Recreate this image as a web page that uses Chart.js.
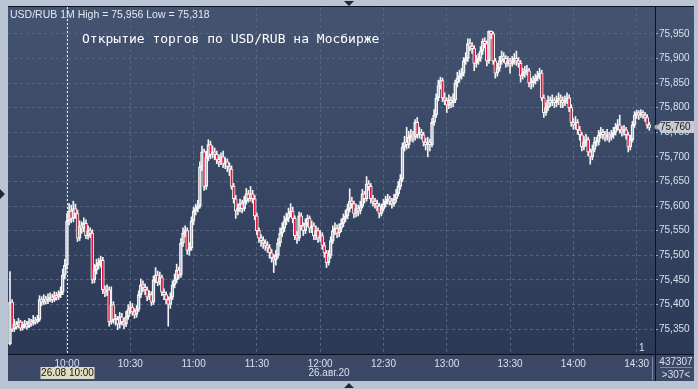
<!DOCTYPE html>
<html>
<head>
<meta charset="utf-8">
<script src="https://cdn.jsdelivr.net/npm/chart.js@4.4.1/dist/chart.umd.min.js"></script>
<style>
  html, body { margin: 0; padding: 0; background: #b9c5d5; overflow: hidden; }
  canvas { display: block; }
</style>
</head>
<body>
<canvas id="chart" width="698" height="389"></canvas>
<script>
// ── Données : USD/RUB 1M, 26.08.20, à partir de 9:33 ──────────────────────
const FIRST_MINUTE = 573;   // 9:33
const FIRST_OPEN = 75.320;

const closes = [
  75.405, 75.350, 75.360, 75.355, 75.365, 75.352, 75.358, 75.360, 75.355, 75.365,
  75.362, 75.368, 75.365, 75.370, 75.410, 75.405, 75.410, 75.408, 75.412, 75.415,
  75.410, 75.418, 75.415, 75.420, 75.425, 75.460, 75.480, 75.570, 75.590, 75.575,
  75.595, 75.585, 75.535, 75.560, 75.555, 75.565, 75.540, 75.550, 75.545, 75.450,
  75.470, 75.480, 75.485, 75.490, 75.430, 75.425, 75.430, 75.365, 75.400, 75.370,
  75.370, 75.360, 75.375, 75.365, 75.360, 75.375, 75.390, 75.395, 75.385, 75.380,
  75.390, 75.420, 75.440, 75.435, 75.430, 75.415, 75.420, 75.405, 75.450, 75.460,
  75.445, 75.455, 75.425, 75.420, 75.410, 75.400, 75.415, 75.440, 75.450, 75.470,
  75.460, 75.525, 75.545, 75.550, 75.510, 75.515, 75.570, 75.590, 75.595, 75.600,
  75.680, 75.710, 75.640, 75.700, 75.725, 75.705, 75.710, 75.705, 75.695, 75.690,
  75.700, 75.685, 75.690, 75.680, 75.675, 75.640, 75.615, 75.590, 75.595, 75.605,
  75.595, 75.610, 75.625, 75.615, 75.625, 75.615, 75.580, 75.550, 75.535, 75.530,
  75.525, 75.520, 75.515, 75.505, 75.495, 75.490, 75.500, 75.525, 75.545, 75.555,
  75.570, 75.575, 75.585, 75.590, 75.575, 75.540, 75.535, 75.580, 75.560, 75.550,
  75.565, 75.575, 75.555, 75.560, 75.540, 75.550, 75.535, 75.540, 75.520, 75.505,
  75.485, 75.500, 75.530, 75.550, 75.555, 75.545, 75.555, 75.565, 75.575, 75.580,
  75.595, 75.610, 75.605, 75.585, 75.595, 75.590, 75.600, 75.625, 75.615, 75.645,
  75.640, 75.615, 75.610, 75.605, 75.600, 75.585, 75.595, 75.605, 75.610, 75.615,
  75.610, 75.605, 75.615, 75.625, 75.640, 75.655, 75.720, 75.730, 75.725, 75.740,
  75.745, 75.740, 75.770, 75.745, 75.750, 75.745, 75.730, 75.725, 75.730, 75.725,
  75.770, 75.785, 75.820, 75.845, 75.855, 75.820, 75.815, 75.805, 75.815, 75.810,
  75.815, 75.850, 75.860, 75.865, 75.870, 75.895, 75.900, 75.930, 75.925, 75.920,
  75.890, 75.895, 75.900, 75.915, 75.935, 75.930, 75.895, 75.955, 75.950, 75.895,
  75.870, 75.880, 75.895, 75.905, 75.900, 75.890, 75.895, 75.890, 75.895, 75.900,
  75.895, 75.890, 75.865, 75.870, 75.875, 75.875, 75.850, 75.850, 75.855, 75.860,
  75.865, 75.870, 75.820, 75.790, 75.800, 75.815, 75.810, 75.815, 75.810, 75.815,
  75.820, 75.815, 75.810, 75.815, 75.820, 75.800, 75.770, 75.765, 75.770, 75.755,
  75.745, 75.720, 75.730, 75.735, 75.710, 75.700, 75.715, 75.730, 75.730, 75.745,
  75.750, 75.745, 75.740, 75.745, 75.740, 75.745, 75.750, 75.760, 75.765, 75.755,
  75.750, 75.755, 75.745, 75.720, 75.735, 75.765, 75.785, 75.790, 75.785, 75.790,
  75.785, 75.780, 75.765, 75.760
];

const highs = [
  75.467, 75.410, 75.370, 75.366, 75.372, 75.368, 75.365, 75.368, 75.366, 75.372,
  75.370, 75.378, 75.374, 75.378, 75.418, 75.416, 75.420, 75.417, 75.422, 75.424,
  75.421, 75.426, 75.425, 75.428, 75.436, 75.472, 75.492, 75.585, 75.605, 75.602,
  75.610, 75.604, 75.592, 75.570, 75.568, 75.576, 75.572, 75.560, 75.556, 75.552,
  75.482, 75.492, 75.494, 75.498, 75.496, 75.438, 75.440, 75.436, 75.436, 75.406,
  75.380, 75.376, 75.384, 75.382, 75.372, 75.386, 75.400, 75.406, 75.402, 75.392,
  75.398, 75.428, 75.452, 75.448, 75.442, 75.436, 75.428, 75.426, 75.458, 75.475,
  75.468, 75.466, 75.460, 75.432, 75.426, 75.416, 75.424, 75.448, 75.462, 75.482,
  75.476, 75.534, 75.556, 75.560, 75.556, 75.526, 75.578, 75.598, 75.604, 75.612,
  75.690, 75.722, 75.716, 75.712, 75.735, 75.732, 75.722, 75.718, 75.712, 75.704,
  75.708, 75.712, 75.698, 75.696, 75.688, 75.682, 75.646, 75.622, 75.604, 75.614,
  75.612, 75.620, 75.636, 75.632, 75.640, 75.632, 75.622, 75.586, 75.556, 75.542,
  75.538, 75.532, 75.528, 75.522, 75.512, 75.502, 75.510, 75.534, 75.556, 75.566,
  75.580, 75.586, 75.596, 75.605, 75.598, 75.580, 75.548, 75.588, 75.586, 75.566,
  75.574, 75.582, 75.580, 75.570, 75.566, 75.560, 75.556, 75.550, 75.546, 75.526,
  75.510, 75.510, 75.538, 75.560, 75.566, 75.562, 75.564, 75.574, 75.584, 75.592,
  75.604, 75.635, 75.618, 75.610, 75.604, 75.602, 75.610, 75.634, 75.630, 75.660,
  75.652, 75.646, 75.622, 75.616, 75.612, 75.606, 75.604, 75.614, 75.620, 75.624,
  75.620, 75.616, 75.624, 75.634, 75.650, 75.664, 75.728, 75.742, 75.760, 75.752,
  75.756, 75.752, 75.776, 75.780, 75.760, 75.756, 75.750, 75.738, 75.740, 75.736,
  75.778, 75.796, 75.828, 75.856, 75.862, 75.860, 75.830, 75.820, 75.826, 75.822,
  75.828, 75.856, 75.872, 75.876, 75.880, 75.902, 75.912, 75.940, 75.940, 75.932,
  75.926, 75.906, 75.910, 75.924, 75.940, 75.942, 75.936, 75.956, 75.956, 75.954,
  75.900, 75.890, 75.904, 75.915, 75.912, 75.906, 75.904, 75.900, 75.904, 75.910,
  75.915, 75.902, 75.896, 75.880, 75.884, 75.886, 75.880, 75.860, 75.864, 75.868,
  75.874, 75.880, 75.876, 75.826, 75.810, 75.824, 75.822, 75.826, 75.820, 75.824,
  75.830, 75.826, 75.822, 75.824, 75.830, 75.826, 75.806, 75.778, 75.782, 75.776,
  75.762, 75.750, 75.742, 75.746, 75.740, 75.716, 75.724, 75.740, 75.740, 75.754,
  75.760, 75.756, 75.752, 75.756, 75.750, 75.754, 75.760, 75.768, 75.776, 75.785,
  75.762, 75.764, 75.760, 75.750, 75.744, 75.772, 75.792, 75.795, 75.794, 75.796,
  75.794, 75.790, 75.786, 75.770
];

const lows = [
  75.318, 75.345, 75.345, 75.350, 75.352, 75.347, 75.348, 75.352, 75.350, 75.353,
  75.356, 75.358, 75.360, 75.362, 75.366, 75.398, 75.400, 75.401, 75.402, 75.406,
  75.404, 75.406, 75.409, 75.410, 75.414, 75.420, 75.452, 75.472, 75.562, 75.566,
  75.568, 75.575, 75.528, 75.530, 75.545, 75.548, 75.534, 75.533, 75.536, 75.443,
  75.444, 75.462, 75.472, 75.476, 75.422, 75.416, 75.418, 75.356, 75.360, 75.362,
  75.358, 75.349, 75.352, 75.358, 75.351, 75.355, 75.370, 75.382, 75.378, 75.372,
  75.374, 75.386, 75.414, 75.426, 75.420, 75.408, 75.410, 75.398, 75.400, 75.444,
  75.438, 75.440, 75.418, 75.410, 75.402, 75.356, 75.392, 75.410, 75.434, 75.444,
  75.452, 75.455, 75.518, 75.538, 75.502, 75.500, 75.510, 75.562, 75.582, 75.588,
  75.596, 75.672, 75.632, 75.634, 75.692, 75.696, 75.698, 75.694, 75.686, 75.680,
  75.684, 75.678, 75.676, 75.670, 75.662, 75.634, 75.606, 75.575, 75.582, 75.588,
  75.586, 75.590, 75.604, 75.608, 75.610, 75.606, 75.572, 75.542, 75.526, 75.518,
  75.514, 75.510, 75.506, 75.494, 75.486, 75.465, 75.480, 75.494, 75.518, 75.538,
  75.548, 75.562, 75.568, 75.578, 75.566, 75.532, 75.524, 75.530, 75.552, 75.540,
  75.544, 75.558, 75.546, 75.546, 75.532, 75.532, 75.526, 75.528, 75.512, 75.496,
  75.475, 75.480, 75.494, 75.524, 75.542, 75.536, 75.538, 75.548, 75.558, 75.568,
  75.574, 75.588, 75.596, 75.576, 75.578, 75.580, 75.584, 75.596, 75.606, 75.610,
  75.632, 75.606, 75.600, 75.596, 75.590, 75.576, 75.580, 75.590, 75.598, 75.604,
  75.602, 75.596, 75.600, 75.608, 75.620, 75.634, 75.650, 75.712, 75.716, 75.718,
  75.732, 75.730, 75.734, 75.738, 75.738, 75.736, 75.722, 75.714, 75.700, 75.712,
  75.720, 75.764, 75.780, 75.814, 75.838, 75.812, 75.806, 75.790, 75.798, 75.800,
  75.802, 75.810, 75.842, 75.852, 75.858, 75.864, 75.888, 75.894, 75.916, 75.910,
  75.875, 75.882, 75.888, 75.894, 75.908, 75.922, 75.885, 75.890, 75.940, 75.888,
  75.860, 75.864, 75.874, 75.888, 75.892, 75.882, 75.884, 75.870, 75.884, 75.888,
  75.886, 75.882, 75.852, 75.858, 75.862, 75.866, 75.842, 75.838, 75.842, 75.848,
  75.854, 75.858, 75.814, 75.780, 75.784, 75.794, 75.802, 75.804, 75.800, 75.802,
  75.806, 75.800, 75.800, 75.804, 75.808, 75.792, 75.762, 75.756, 75.756, 75.746,
  75.734, 75.712, 75.714, 75.722, 75.702, 75.685, 75.694, 75.710, 75.722, 75.724,
  75.738, 75.736, 75.732, 75.734, 75.730, 75.734, 75.738, 75.744, 75.754, 75.748,
  75.742, 75.744, 75.736, 75.710, 75.714, 75.730, 75.760, 75.778, 75.776, 75.780,
  75.778, 75.772, 75.758, 75.754
];

const timeTicks  = [600, 630, 660, 690, 720, 750, 780, 810, 840, 870];
const timeLabels = ['10:00', '10:30', '11:00', '11:30', '12:00', '12:30', '13:00', '13:30', '14:00', '14:30'];
const priceTicks = [75.35, 75.40, 75.45, 75.50, 75.55, 75.60, 75.65, 75.70, 75.75, 75.80, 75.85, 75.90, 75.95];

const TITLE = 'Открытие торгов по USD/RUB на Мосбирже';
const INFO = 'USD/RUB 1M High = 75,956 Low = 75,318';
const DATE_LABEL = '26.авг.20';
const CURSOR_LABEL = '26.08 10:00';
const CURSOR_MINUTE = 600;

// ── Bougies ───────────────────────────────────────────────────────────────
const opens = [FIRST_OPEN, ...closes.slice(0, -1)];
const minutes = closes.map((_, i) => FIRST_MINUTE + i);
const isDown = closes.map((c, i) => c < opens[i]);

const upperWick = minutes.map((m, i) => ({ x: m, y: [Math.max(opens[i], closes[i]), highs[i]] }));
const lowerWick = minutes.map((m, i) => ({ x: m, y: [lows[i], Math.min(opens[i], closes[i])] }));
const bodies = minutes.map((m, i) => ({ x: m, y: [Math.min(opens[i], closes[i]), Math.max(opens[i], closes[i])] }));

const fmtPrice = v => v.toFixed(3).replace('.', ',');
const AXIS_TXT = '#d6e0ec';
const FONT = 'Liberation Sans';

// fond + décor
const frame = {
  id: 'frame',
  beforeDraw(chart) {
    const { ctx, chartArea: a } = chart;
    ctx.save();
    ctx.fillStyle = '#b9c5d5';
    ctx.fillRect(0, 0, 698, 389);
    const g = ctx.createLinearGradient(0, a.top, 0, a.bottom);
    g.addColorStop(0, '#44536f');
    g.addColorStop(1, '#2b3956');
    ctx.fillStyle = g;
    ctx.fillRect(a.left, a.top, 694 - a.left, a.bottom - a.top);
    ctx.fillStyle = '#3b4966';
    ctx.fillRect(a.left, a.bottom, 694 - a.left, 381 - a.bottom);
    ctx.restore();
  },
  afterDraw(chart) {
    const { ctx, chartArea: a, scales } = chart;
    ctx.save();

    // curseur vertical
    const cx = Math.round(scales.x.getPixelForValue(CURSOR_MINUTE)) + 0.5;
    ctx.strokeStyle = '#eeeeee';
    ctx.lineWidth = 1;
    ctx.setLineDash([2, 2]);
    ctx.beginPath();
    ctx.moveTo(cx, a.top);
    ctx.lineTo(cx, a.bottom);
    ctx.stroke();
    ctx.setLineDash([]);

    // séparateurs
    ctx.strokeStyle = '#0c1220';
    ctx.beginPath();
    ctx.moveTo(a.left, a.top - 0.5); ctx.lineTo(694, a.top - 0.5);
    ctx.moveTo(a.right + 0.5, a.top); ctx.lineTo(a.right + 0.5, 381);
    ctx.moveTo(a.left, a.bottom + 0.5); ctx.lineTo(694, a.bottom + 0.5);
    ctx.stroke();
    ctx.strokeStyle = '#7d8ca6';
    ctx.beginPath();
    ctx.moveTo(652.5, 357); ctx.lineTo(652.5, 380);
    ctx.moveTo(660, 367.5); ctx.lineTo(692, 367.5);
    ctx.stroke();

    // textes
    ctx.textBaseline = 'middle';
    ctx.fillStyle = '#e2e9f3';
    ctx.font = `10.5px "${FONT}"`;
    ctx.textAlign = 'left';
    ctx.fillText(INFO, 10, 15);

    ctx.fillStyle = '#ffffff';
    ctx.font = '13px "DejaVu Sans Mono"';
    ctx.fillText(TITLE, 82, 40);

    ctx.font = `10px "${FONT}"`;
    ctx.fillStyle = AXIS_TXT;
    ctx.fillText('1', 639, 348);
    ctx.textAlign = 'center';
    ctx.fillText(DATE_LABEL, 329, 373);
    ctx.fillText('437307', 676, 362);
    ctx.fillText('>307<', 676, 375);

    // étiquette du curseur
    ctx.fillStyle = '#dedcc2';
    ctx.fillRect(cx - 27, 367, 54, 12);
    ctx.fillStyle = '#161616';
    ctx.fillText(CURSOR_LABEL, cx, 373.5);

    // dernier prix
    const last = closes[closes.length - 1];
    const py = Math.round(scales.y.getPixelForValue(last));
    ctx.fillStyle = '#9ea3ad';
    ctx.beginPath();
    ctx.arc(a.right + 2, py, 2.5, 0, 2 * Math.PI);
    ctx.fill();
    ctx.fillStyle = '#c6c9d0';
    ctx.beginPath();
    ctx.moveTo(a.right + 2, py);
    ctx.lineTo(a.right + 6, py - 6);
    ctx.lineTo(694, py - 6);
    ctx.lineTo(694, py + 6);
    ctx.lineTo(a.right + 6, py + 6);
    ctx.closePath();
    ctx.fill();
    ctx.fillStyle = '#1a1a1a';
    ctx.textAlign = 'left';
    ctx.fillText(fmtPrice(last), a.right + 5, py + 0.5);

    // flèches du cadre
    ctx.fillStyle = '#1e283a';
    ctx.beginPath();
    ctx.moveTo(344, 1); ctx.lineTo(354, 1); ctx.lineTo(349, 6); ctx.closePath();
    ctx.moveTo(344, 388); ctx.lineTo(354, 388); ctx.lineTo(349, 383); ctx.closePath();
    ctx.moveTo(0, 189); ctx.lineTo(0, 199); ctx.lineTo(5, 194); ctx.closePath();
    ctx.fill();

    ctx.restore();
  },
};

new Chart(document.getElementById('chart'), {
  type: 'bar',
  plugins: [frame],
  data: {
    datasets: [
      { data: upperWick, barThickness: 1, backgroundColor: '#f2f2f2', grouped: false, order: 2 },
      { data: lowerWick, barThickness: 1, backgroundColor: '#f2f2f2', grouped: false, order: 2 },
      {
        data: bodies,
        barThickness: 3,
        minBarLength: 1,
        grouped: false,
        order: 1,
        borderWidth: 1,
        borderSkipped: false,
        borderColor: '#f4f4f4',
        backgroundColor: isDown.map(d => (d ? '#e0143c' : 'rgba(0,0,0,0)')),
      },
    ],
  },
  options: {
    responsive: false,
    animation: false,
    events: [],
    layout: { padding: { left: 8, top: 7, right: 4, bottom: 8 } },
    plugins: { legend: { display: false }, tooltip: { enabled: false } },
    scales: {
      x: {
        type: 'linear',
        min: 572.05,
        max: 878.69,
        offset: false,
        afterFit: s => { s.height = 27; },
        afterBuildTicks: s => { s.ticks = timeTicks.map(v => ({ value: v })); },
        grid: { color: '#56657f', offset: false, drawTicks: false },
        border: { display: false, dash: [3, 3] },
        ticks: {
          padding: 4,
          color: AXIS_TXT,
          font: { family: FONT, size: 10 },
          callback: v => timeLabels[timeTicks.indexOf(v)],
          maxRotation: 0,
        },
      },
      y: {
        position: 'right',
        min: 75.2995,
        max: 76.0045,
        afterFit: s => { s.width = 39; },
        afterBuildTicks: s => { s.ticks = priceTicks.map(v => ({ value: v })); },
        grid: { color: '#56657f', tickColor: '#8fb0de', tickLength: 3 },
        border: { display: false, dash: [3, 3] },
        ticks: {
          padding: 1,
          color: AXIS_TXT,
          font: { family: FONT, size: 10 },
          callback: v => fmtPrice(v),
        },
      },
    },
  },
});
</script>
</body>
</html>
